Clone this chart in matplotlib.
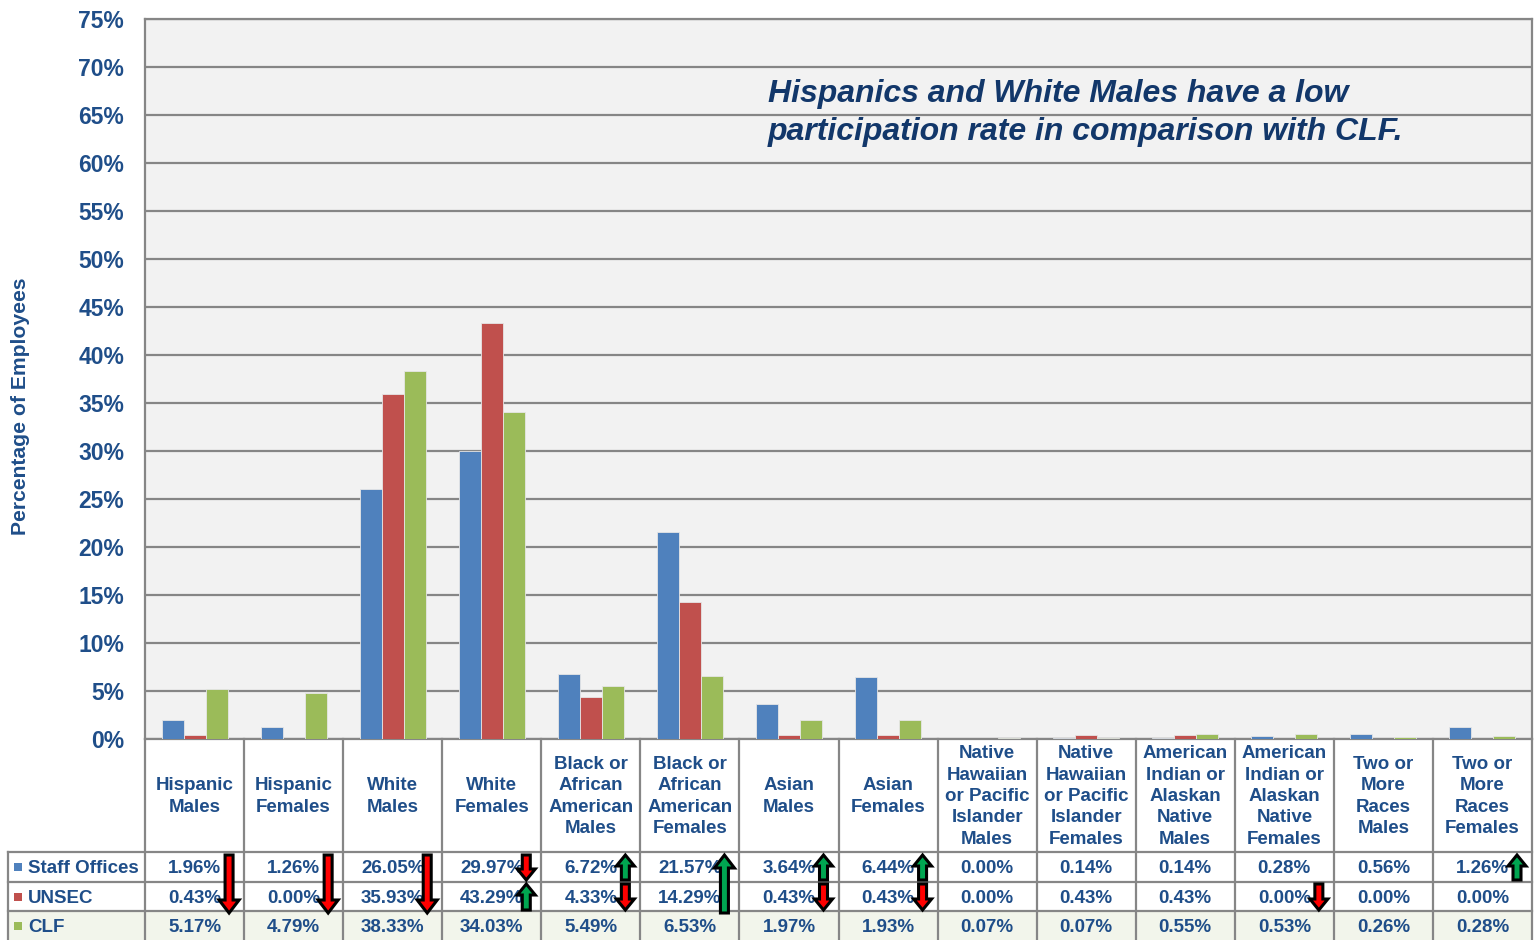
import matplotlib
matplotlib.use("Agg")
import matplotlib.pyplot as plt
from matplotlib.patches import FancyArrow, Rectangle
import numpy as np

plt.rcParams['font.family'] = ['Liberation Sans', 'DejaVu Sans']

# ---------------- data ----------------
categories = ["Hispanic\nMales", "Hispanic\nFemales", "White\nMales", "White\nFemales",
              "Black or\nAfrican\nAmerican\nMales", "Black or\nAfrican\nAmerican\nFemales",
              "Asian\nMales", "Asian\nFemales",
              "Native\nHawaiian\nor Pacific\nIslander\nMales",
              "Native\nHawaiian\nor Pacific\nIslander\nFemales",
              "American\nIndian or\nAlaskan\nNative\nMales",
              "American\nIndian or\nAlaskan\nNative\nFemales",
              "Two or\nMore\nRaces\nMales", "Two or\nMore\nRaces\nFemales"]
series_names = ["Staff Offices", "UNSEC", "CLF"]
staff = [1.96, 1.26, 26.05, 29.97, 6.72, 21.57, 3.64, 6.44, 0.00, 0.14, 0.14, 0.28, 0.56, 1.26]
unsec = [0.43, 0.00, 35.93, 43.29, 4.33, 14.29, 0.43, 0.43, 0.00, 0.43, 0.43, 0.00, 0.00, 0.00]
clf = [5.17, 4.79, 38.33, 34.03, 5.49, 6.53, 1.97, 1.93, 0.07, 0.07, 0.55, 0.53, 0.26, 0.28]
# comparison arrows against CLF ('' = no arrow)
staff_arrow = ['down', 'down', 'down', 'down', 'up', 'up', 'up', 'up', '', '', '', '', '', 'up']
unsec_arrow = ['down', 'down', 'down', 'up', 'down', 'up', 'down', 'down', '', '', '', 'down', '', '']
yticks = list(range(0, 80, 5))
title_text = "Hispanics and White Males have a low\nparticipation rate in comparison with CLF."
ylabel_text = "Percentage of Employees"

colors = ['#4F81BD', '#C0504D', '#9BBB59']
txt_color = '#1F4E89'
title_color = '#12376A'
grid_color = '#868686'

W, H = 1534, 940
fig = plt.figure(figsize=(W / 100, H / 100), dpi=100)
fig.patch.set_facecolor('white')

L, R, T, B = 145, 1532, 19, 739
ax = fig.add_axes([L / W, 1 - B / H, (R - L) / W, (B - T) / H])
ax.set_facecolor('#F2F2F2')
n = len(categories)
x = np.arange(n)
bw = 1 / 4.5
for k, vals in enumerate([staff, unsec, clf]):
    ax.bar(x + (k - 1) * bw, vals, width=bw, color=colors[k], edgecolor='#E6E6E6',
           linewidth=0.6, zorder=3, label=series_names[k])
ax.set_xlim(-0.5, n - 0.5)
ax.set_ylim(0, 75)
ax.set_yticks(yticks)
ax.set_yticklabels([f"{t}%" for t in yticks], fontsize=16.5, fontweight='bold', color=txt_color)
ax.tick_params(axis='y', length=0, pad=15)
ax.set_xticks([])
ax.grid(axis='y', color=grid_color, linewidth=1.6, zorder=1)
ax.set_axisbelow(True)
for s in ax.spines.values():
    s.set_color(grid_color)
    s.set_linewidth(1.6)

# ---------------- overlay (pixel coordinates) ----------------
ov = fig.add_axes([0, 0, 1, 1])
ov.set_xlim(0, W)
ov.set_ylim(H, 0)
ov.axis('off')
ov.patch.set_alpha(0)

ov.text(768, 113, title_text, ha='left', va='center',
        fontsize=23, fontweight='bold', style='italic', color=title_color, linespacing=1.36)
ov.text(21, 406, ylabel_text, rotation=90, ha='center', va='center',
        fontsize=15.2, fontweight='bold', color=txt_color)

colw = (R - L) / n
edges = [L + i * colw for i in range(n + 1)]
row_lines = [852, 881.5, 911]
row_centers = [868.5, 898.5, 928]

ov.add_patch(Rectangle((8, 911), R - 8, H - 911, facecolor='#F2F5EB', edgecolor='none', zorder=0))
for e in edges:
    ov.plot([e, e], [B, H], color=grid_color, lw=1.6, zorder=1)
ov.plot([8, 8], [852, H], color=grid_color, lw=1.6, zorder=1)
for yl in row_lines:
    ov.plot([8, R], [yl, yl], color=grid_color, lw=1.6, zorder=1)

for i, cat in enumerate(categories):
    cx = (edges[i] + edges[i + 1]) / 2
    ov.text(cx, 796.5, cat, ha='center', va='center', multialignment='center',
            fontsize=13.5, fontweight='bold', color=txt_color, linespacing=1.33)
    for r, vals in enumerate([staff, unsec, clf]):
        ov.text(cx, row_centers[r], f"{vals[i]:.2f}%", ha='center', va='center',
                fontsize=13.5, fontweight='bold', color=txt_color, zorder=2)

for r, name in enumerate(series_names):
    ov.add_patch(Rectangle((14, row_centers[r] - 6), 8, 8, facecolor=colors[r], edgecolor='none'))
    ov.text(28, row_centers[r], name, ha='left', va='center', fontsize=13.5,
            fontweight='bold', color=txt_color)

arrow_fc = {'up': '#00A651', 'down': '#FF0000'}


def draw_arrow(xc, ytop, ybot, direction, hl, hw):
    if direction == 'up':
        y0, dy = ybot, -(ybot - ytop)
    else:
        y0, dy = ytop, (ybot - ytop)
    ov.add_patch(FancyArrow(xc, y0, 0, dy, width=8, head_width=hw, head_length=hl,
                            length_includes_head=True, facecolor=arrow_fc[direction],
                            edgecolor='black', linewidth=2.2, joinstyle='miter', zorder=5))


for i in range(n):
    xc = edges[i + 1] - 15
    sa, ua = staff_arrow[i], unsec_arrow[i]
    if sa and sa == ua:
        draw_arrow(xc, 855, 913, sa, 13, 20)
    else:
        if sa:
            draw_arrow(xc, 855, 880, sa, 11, 18)
        if ua:
            draw_arrow(xc, 884, 910, ua, 11, 18)

fig.savefig('out.png', dpi=100)
